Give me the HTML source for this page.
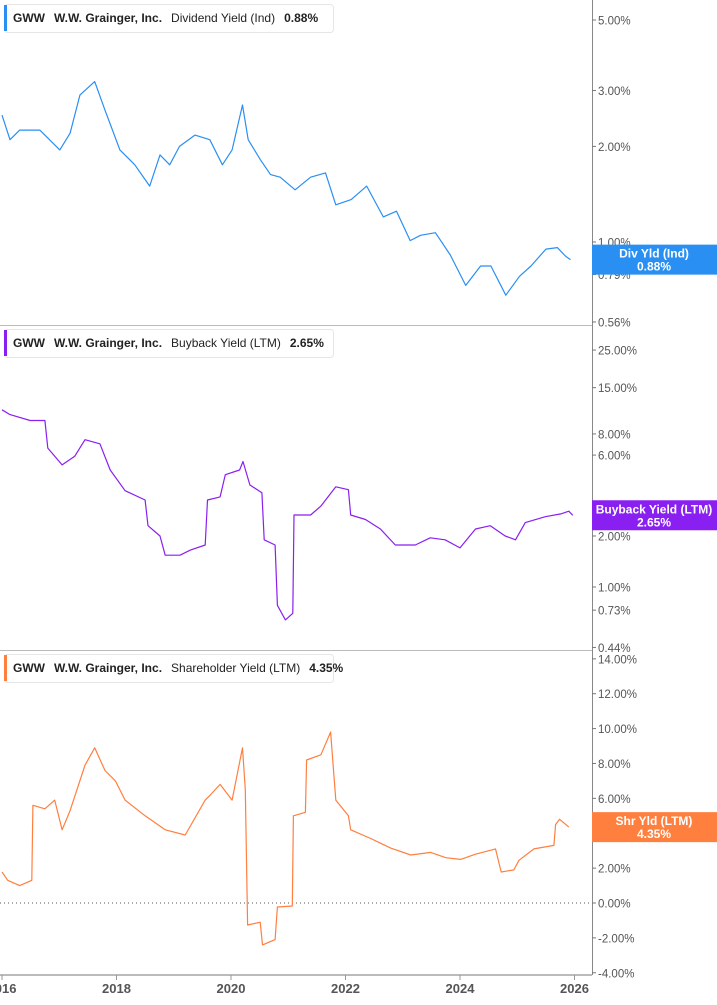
<!DOCTYPE html>
<html><head><meta charset="utf-8"><style>
body{margin:0;background:#fff;font-family:"Liberation Sans",sans-serif}
svg{display:block}
.tk{font-size:11.5px;fill:#555}
.yr{font-size:13px;font-weight:bold;fill:#555}
.hd{font-size:12px;fill:#222}
</style></head><body>
<svg id="c" width="717" height="1005"></svg>
<script>
const divYears=[2016.0,2016.14,2016.31,2016.66,2017.01,2017.19,2017.36,2017.62,2017.8,2018.06,2018.32,2018.58,2018.76,2018.93,2019.1,2019.37,2019.63,2019.85,2020.02,2020.2,2020.3,2020.51,2020.69,2020.86,2021.12,2021.39,2021.65,2021.83,2022.1,2022.37,2022.66,2022.89,2023.13,2023.31,2023.57,2023.83,2024.1,2024.36,2024.54,2024.8,2025.04,2025.24,2025.5,2025.7,2025.85,2025.93];
const divVals=[2.51,2.1,2.25,2.25,1.95,2.2,2.9,3.2,2.6,1.95,1.75,1.5,1.88,1.75,2.0,2.17,2.1,1.75,1.95,2.7,2.1,1.82,1.63,1.6,1.46,1.6,1.65,1.31,1.36,1.5,1.2,1.25,1.01,1.05,1.07,0.91,0.73,0.84,0.84,0.68,0.78,0.84,0.95,0.96,0.9,0.88];
const bbYears=[2016.0,2016.14,2016.49,2016.75,2016.8,2017.05,2017.27,2017.45,2017.71,2017.89,2018.15,2018.5,2018.55,2018.76,2018.85,2019.11,2019.29,2019.55,2019.59,2019.81,2019.9,2020.15,2020.21,2020.33,2020.54,2020.58,2020.77,2020.81,2020.95,2021.08,2021.1,2021.39,2021.57,2021.83,2022.05,2022.09,2022.35,2022.61,2022.87,2023.22,2023.48,2023.74,2024.0,2024.27,2024.53,2024.79,2024.97,2025.14,2025.49,2025.76,2025.9,2025.97];
const bbVals=[11.1,10.4,9.6,9.6,6.6,5.25,5.9,7.4,7.0,4.9,3.7,3.26,2.3,2.0,1.54,1.54,1.65,1.77,3.26,3.4,4.6,4.9,5.5,4.0,3.6,1.9,1.77,0.78,0.64,0.7,2.66,2.66,3.0,3.9,3.75,2.66,2.5,2.2,1.77,1.77,1.95,1.9,1.7,2.2,2.3,2.0,1.9,2.4,2.6,2.7,2.8,2.65];
const shYears=[2016.0,2016.1,2016.31,2016.52,2016.54,2016.75,2016.92,2017.05,2017.19,2017.45,2017.62,2017.8,2017.98,2018.15,2018.5,2018.85,2019.2,2019.55,2019.64,2019.81,2020.02,2020.2,2020.25,2020.29,2020.51,2020.55,2020.77,2020.81,2021.07,2021.09,2021.3,2021.32,2021.57,2021.74,2021.83,2022.05,2022.09,2022.44,2022.79,2023.14,2023.49,2023.75,2024.01,2024.27,2024.62,2024.72,2024.94,2025.03,2025.29,2025.64,2025.67,2025.74,2025.9];
const shVals=[1.78,1.3,1.0,1.3,5.6,5.4,5.9,4.2,5.3,7.9,8.9,7.6,7.0,5.9,5.0,4.2,3.9,5.9,6.2,6.8,5.9,8.9,6.5,-1.26,-1.1,-2.4,-2.1,-0.23,-0.17,5.0,5.2,8.2,8.5,9.8,5.9,5.0,4.2,3.7,3.15,2.75,2.9,2.6,2.5,2.8,3.1,1.78,1.9,2.45,3.1,3.3,4.5,4.8,4.35];
const divTicks=[5,3,2,1,0.79,0.56];
const bbTicks=[25,15,8,6,2,1,0.73,0.44];
const shTicks=[14,12,10,8,6,4,2,0,-2,-4];
const yearTicks=[2016,2018,2020,2022,2024,2026];

const NS="http://www.w3.org/2000/svg",svg=document.getElementById('c');
function el(t,a,p){const e=document.createElementNS(NS,t);for(const k in a)e.setAttribute(k,a[k]);(p||svg).appendChild(e);return e;}
const X=y=>2+(y-2016)*57.25;
const Y1=v=>242-317.6*Math.log10(v);
const Y2=v=>587-169.5*Math.log10(v);
const Y3=v=>903-17.44*v;
const AX=592;

function panel(top,ticks,fy,years,vals,color,hdr,val,tag1,name){
  const g=el('g',{});
  
  
  ticks.forEach(t=>{
    const y=fy(t);
    const ln=el('line',{x1:AX,x2:AX+4,y1:y,y2:y,stroke:'#777'},g);
    
    
    const tx=el('text',{x:AX+6,y:y+4.5,class:'tk'},g);
    tx.textContent=t.toFixed(2)+'%';
    
    
  });
  const d=years.map((yr,i)=>(i?'L':'M')+X(yr).toFixed(1)+','+fy(vals[i]).toFixed(1)).join('');
  const p=el('path',{d:d,fill:'none',stroke:color,'stroke-width':1.2,'stroke-linejoin':'round'},g);
  
  
  const hb=el('rect',{x:4.5,y:top+4.5,width:329,height:28,rx:3,fill:'#fff',stroke:'#e6e6e6'},g);
  
  
  el('rect',{x:4,y:top+5,width:3,height:26,fill:color},g);
  const t1=el('text',{x:13,y:top+22,class:'hd'},g);
  t1.innerHTML='<tspan font-weight="bold">GWW</tspan><tspan dx="9" font-weight="bold">W.W. Grainger, Inc.</tspan><tspan dx="9">'+hdr+'</tspan><tspan dx="9" font-weight="bold">'+val+'</tspan>';
  
  
  const last=vals[vals.length-1],ty=fy(last);
  const tg=el('rect',{x:AX,y:ty-15,width:125,height:30,fill:color},g);
  
  
  const a=el('text',{x:AX+62,y:ty-2,'text-anchor':'middle','font-size':12,'font-weight':'bold',fill:'#fff'},g);a.textContent=tag1;
  
  const b=el('text',{x:AX+62,y:ty+11,'text-anchor':'middle','font-size':12,'font-weight':'bold',fill:'#fff'},g);b.textContent=last.toFixed(2)+'%';
  
}
el('line',{x1:0,x2:AX,y1:325.5,y2:325.5,stroke:'#bbb'});
el('line',{x1:0,x2:AX,y1:650.5,y2:650.5,stroke:'#bbb'});
const ax=el('line',{x1:AX+0.5,x2:AX+0.5,y1:0,y2:975,stroke:'#888'});

const zl=el('line',{x1:0,x2:AX,y1:Y3(0),y2:Y3(0),stroke:'#555','stroke-dasharray':'1,3'});


panel(0,divTicks,Y1,divYears,divVals,'#2a8ff2','Dividend Yield (Ind)','0.88%','Div Yld (Ind)','dividend-yield');
panel(325,bbTicks,Y2,bbYears,bbVals,'#8a1ff2','Buyback Yield (LTM)','2.65%','Buyback Yield (LTM)','buyback-yield');
panel(650,shTicks,Y3,shYears,shVals,'#ff7f3f','Shareholder Yield (LTM)','4.35%','Shr Yld (LTM)','shareholder-yield');

const xa=el('line',{x1:0,x2:AX,y1:975,y2:975,stroke:'#bbb','stroke-width':2});

yearTicks.forEach(yr=>{
  const x=X(yr);
  el('line',{x1:x,x2:x,y1:975,y2:980,stroke:'#999'});
  const t=el('text',{x:x,y:993,'text-anchor':'middle',class:'yr'});
  t.textContent=yr;
  
  
});
</script>
</body></html>
